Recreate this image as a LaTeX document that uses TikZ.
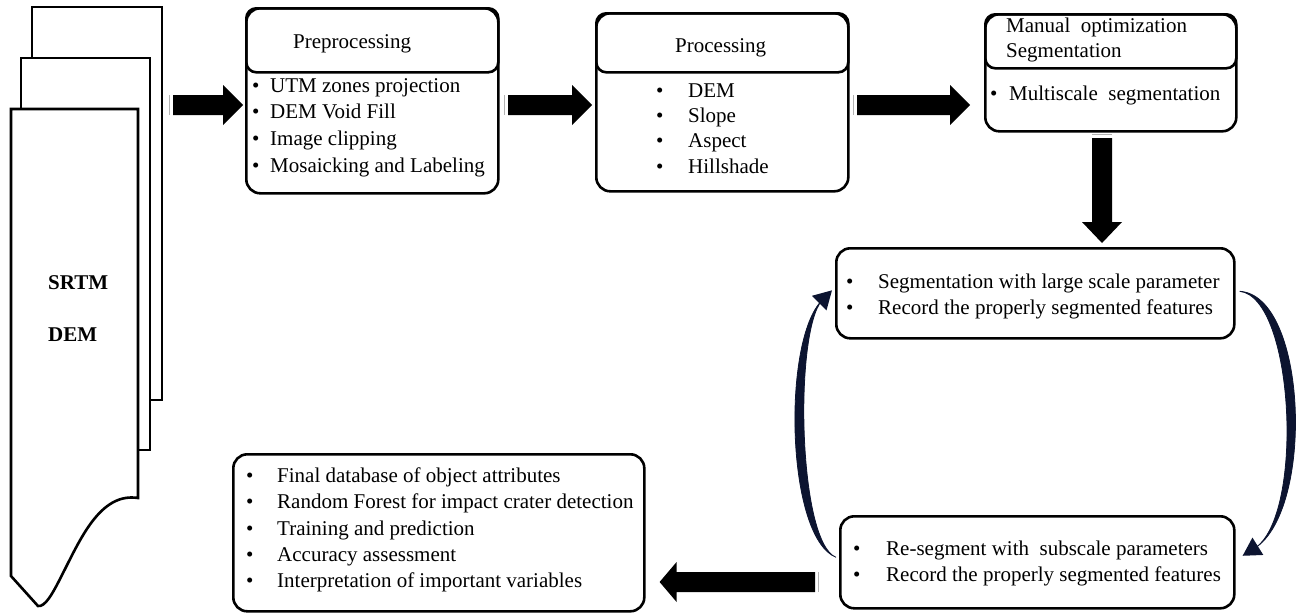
\documentclass[tikz,border=0pt]{standalone}
\usepackage{fontspec}
\setmainfont{Liberation Serif}
\usetikzlibrary{calc,arrows.meta}
\definecolor{arcnavy}{RGB}{12,20,48}
\newcommand\blockR[3]{% tail, tip, head length
  \fill ($(#1)+(0,-10)$) -- ($(#2)+(-#3,-10)$) -- ($(#2)+(-#3,-20)$) -- (#2) -- ($(#2)+(-#3,20)$) -- ($(#2)+(-#3,10)$) -- ($(#1)+(0,10)$) -- cycle;
  \draw[gray!60, line width=1.2pt] ($(#1)+(-3.5,-10)$) -- ($(#1)+(-3.5,10)$);}
\newcommand\blockL[3]{%
  \fill ($(#1)+(0,-10)$) -- ($(#2)+(#3,-10)$) -- ($(#2)+(#3,-20)$) -- (#2) -- ($(#2)+(#3,20)$) -- ($(#2)+(#3,10)$) -- ($(#1)+(0,10)$) -- cycle;
  \draw[gray!60, line width=1.2pt] ($(#1)+(3.5,-10)$) -- ($(#1)+(3.5,10)$);}
\newcommand\blockD[3]{%
  \fill ($(#1)+(-10,0)$) -- ($(#2)+(-10,-#3)$) -- ($(#2)+(-20,-#3)$) -- (#2) -- ($(#2)+(20,-#3)$) -- ($(#2)+(10,-#3)$) -- ($(#1)+(10,0)$) -- cycle;
  \draw[gray!60, line width=1.2pt] ($(#1)+(-10,-3.5)$) -- ($(#1)+(10,-3.5)$);}
\begin{document}
\begin{tikzpicture}[x=1pt,y=-1pt,
  box/.style={draw, line width=2.6pt, rounded corners=14pt, anchor=north west, inner sep=0pt, fill=white},
  headbox/.style={draw, line width=2.6pt, rounded corners=10pt, anchor=north west, inner sep=0pt},
  txt/.style={anchor=base west, inner sep=0pt, font=\fontsize{21}{25}\selectfont},
  btxt/.style={txt, font=\fontsize{21}{25}\selectfont\bfseries},
  sheet/.style={draw, line width=2.6pt, fill=white, line join=miter},
  crescent/.style={fill=arcnavy, draw=arcnavy, line width=0.8pt},
  arctip/.style={draw=arcnavy, fill=arcnavy, line width=2pt, -{Triangle[length=18pt,width=20pt]}}]
\useasboundingbox (0,0) rectangle (1299,613);

% document stack
\draw[sheet] (32,7) rectangle (162,400);
\draw[sheet] (21,58) rectangle (150,450);
\draw[sheet] (138,498) .. controls (100,492) and (80,540) .. (62,575)
   .. controls (52,595) and (45,607) .. (38,606) -- (11,576) -- (11,109) -- (138,109) -- cycle;
\node[btxt] (srtm) at (48,289) {SRTM};
\node[btxt] (dem) at (48,341) {DEM};

% Preprocessing
\node[box, minimum width=252pt, minimum height=185pt] (pre) at (245,7) {};
\node[headbox, minimum width=252pt, minimum height=64pt] (prehead) at (245,7) {};
\node[txt] (preT) at (293,48) {Preprocessing};
\node[txt] (preb1) at (252,92) {•};  \node[txt] (pre1) at (270,92) {UTM zones projection};
\node[txt] (preb2) at (252,118) {•}; \node[txt] (pre2) at (270,118) {DEM Void Fill};
\node[txt] (preb3) at (252,145) {•}; \node[txt] (pre3) at (270,145) {Image clipping};
\node[txt] (preb4) at (252,172) {•}; \node[txt] (pre4) at (270,172) {Mosaicking and Labeling};

% Processing
\node[box, minimum width=252pt, minimum height=178pt] (proc) at (595,12) {};
\node[headbox, minimum width=252pt, minimum height=59pt] (prochead) at (595,12) {};
\node[txt] (procT) at (675,52) {Processing};
\node[txt] (procb1) at (656,97) {•};  \node[txt] (proc1) at (688,97) {DEM};
\node[txt] (procb2) at (656,122) {•}; \node[txt] (proc2) at (688,122) {Slope};
\node[txt] (procb3) at (656,147) {•}; \node[txt] (proc3) at (688,147) {Aspect};
\node[txt] (procb4) at (656,173) {•}; \node[txt] (proc4) at (688,173) {Hillshade};

% Manual optimization
\node[box, minimum width=251pt, minimum height=117pt] (man) at (984,13) {};
\node[headbox, minimum width=251pt, minimum height=54pt] (manhead) at (984,13) {};
\node[txt] (manT1) at (1006,32) {Manual\ \ optimization};
\node[txt] (manT2) at (1006,57) {Segmentation};
\node[txt] (manb1) at (990,100) {•}; \node[txt] (man1) at (1009,100) {Multiscale\ \ segmentation};

% Segmentation with large scale
\node[box, minimum width=398pt, minimum height=90pt] (seg) at (835,247) {};
\node[txt] (segb1) at (846,288) {•}; \node[txt] (seg1) at (878,288) {Segmentation with large scale parameter};
\node[txt] (segb2) at (846,314) {•}; \node[txt] (seg2) at (878,314) {Record the properly segmented features};

% Re-segment
\node[box, minimum width=394pt, minimum height=92pt] (reseg) at (839,515) {};
\node[txt] (resegb1) at (853,555) {•}; \node[txt] (reseg1) at (886,555) {Re-segment with\ \ subscale parameters};
\node[txt] (resegb2) at (853,581) {•}; \node[txt] (reseg2) at (886,581) {Record the properly segmented features};

% Final
\node[box, minimum width=411pt, minimum height=157pt] (fin) at (232,453) {};
\node[txt] (finb1) at (246,482) {•}; \node[txt] (fin1) at (277,482) {Final database of object attributes};
\node[txt] (finb2) at (246,508) {•}; \node[txt] (fin2) at (277,508) {Random Forest for impact crater detection};
\node[txt] (finb3) at (246,535) {•}; \node[txt] (fin3) at (277,535) {Training and prediction};
\node[txt] (finb4) at (246,561) {•}; \node[txt] (fin4) at (277,561) {Accuracy assessment};
\node[txt] (finb5) at (246,587) {•}; \node[txt] (fin5) at (277,587) {Interpretation of important variables};

% block arrows
\coordinate (a1t) at (173,105); \coordinate (a1h) at ([xshift=-2pt]pre.west |- a1t);
\coordinate (a2t) at (508,105); \coordinate (a2h) at ([xshift=-3pt]proc.west |- a2t);
\coordinate (a3t) at (857,105); \coordinate (a3h) at ([xshift=-14pt]man.west |- a3t);
\coordinate (a4t) at (1102,138); \coordinate (a4h) at ([yshift=4pt]seg.north -| a4t);
\coordinate (a5t) at (815,582); \coordinate (a5h) at ([xshift=14pt]fin.east |- a5t);
\blockR{a1t}{a1h}{20}
\blockR{a2t}{a2h}{20}
\blockR{a3t}{a3h}{20}
\blockD{a4t}{a4h}{21}
\blockL{a5t}{a5h}{17}

% loop arrows (tapered crescents with heads)
\coordinate (r1) at ([xshift=4pt,yshift=2pt]seg.east);
\coordinate (r2) at ([xshift=19pt,yshift=14pt]reseg.east);
\coordinate (l1) at ([xshift=-3pt,yshift=5pt]reseg.west);
\coordinate (l2) at ([xshift=-13pt,yshift=-7pt]seg.west);
\path[crescent] (r1) .. controls +(68,4) and +(60,-38) .. (r2)
   .. controls +(50,-32) and +(55,6) .. (r1) -- cycle;
\draw[arctip] (r2) -- +(-12,7.5);
\path[crescent] (l1) .. controls +(-50,-20) and +(-40,40) .. (l2)
   .. controls +(-28,32) and +(-38,-15) .. (l1) -- cycle;
\draw[arctip] (l2) -- +(10,-10);
\end{tikzpicture}
\end{document}
